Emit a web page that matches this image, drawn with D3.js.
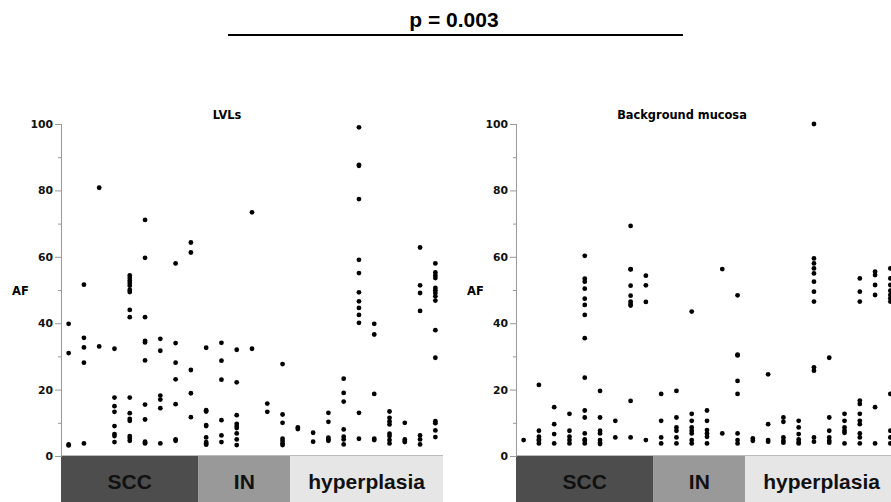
<!DOCTYPE html>
<html>
<head>
<meta charset="utf-8">
<script src="https://cdn.jsdelivr.net/npm/d3@7"></script>
<style>
body { margin: 0; background: #fff; }
</style>
</head>
<body>
<script>
var WIDTH = 891;
var HEIGHT = 502;
var PANEL_SHIFT = 455;
var DOT_R = 2.4;

// groups of patients along the x axis
var groups = ['SCC', 'IN', 'hyperplasia'];
var groupCounts = [9, 6, 10];
var groupColors = ['#4d4d4d', '#999999', '#e6e6e6'];

var yTicks = [0, 20, 40, 60, 80, 100];
var yMinorTicks = [10, 30, 50, 70, 90];

var panelTitles = ['LVLs', 'Background mucosa'];

// allele frequencies per patient, LVLs
var lvls = [
    [39.8, 31.0, 3.5, 3.2],
    [51.6, 35.6, 32.7, 28.1, 3.8],
    [80.8, 33.0],
    [32.3, 17.6, 15.0, 13.3, 9.0, 6.6, 6.0, 4.2],
    [54.4, 53.6, 52.8, 52.1, 51.3, 50.0, 49.4, 44.0, 41.8, 17.6, 12.9, 11.2, 10.6, 6.0, 5.4, 4.6],
    [71.1, 59.7, 41.8, 34.7, 34.2, 28.8, 15.5, 11.0, 4.3, 4.0, 3.8],
    [35.3, 31.7, 18.2, 17.0, 14.4, 3.8],
    [58.0, 34.0, 28.1, 23.1, 15.6, 5.0, 4.6],
    [64.3, 61.3, 25.9, 18.9, 11.7],
    [32.6, 13.8, 13.4, 9.3, 9.0, 5.6, 4.2, 3.8, 3.4],
    [34.1, 28.7, 23.0, 10.8, 6.2, 4.2],
    [32.0, 22.2, 12.3, 9.7, 9.0, 8.4, 6.8, 5.0, 3.3],
    [73.4, 32.3],
    [15.8, 13.3],
    [27.7, 12.5, 10.0, 5.2, 4.5, 3.8, 3.3],
    [8.6, 8.1],
    [7.0, 4.3],
    [13.0, 10.3, 5.5, 5.0, 4.6],
    [23.3, 19.0, 16.4, 8.0, 5.8, 5.0, 3.5],
    [99.0, 87.7, 87.4, 77.4, 59.1, 55.1, 49.3, 46.6, 44.6, 42.5, 40.1, 13.0, 5.2],
    [39.8, 36.6, 18.7, 5.2, 4.8],
    [13.4, 11.5, 10.4, 9.5, 6.7, 6.0, 4.8, 3.8],
    [10.0, 5.0, 4.5, 4.2],
    [62.8, 51.4, 49.1, 43.7, 6.2, 5.0, 3.5],
    [58.0, 55.3, 54.4, 53.6, 50.6, 49.9, 49.1, 48.1, 46.8, 37.9, 29.6, 10.5, 9.9, 7.7, 5.7]
];

// allele frequencies per patient, background mucosa
var mucosa = [
    [4.8],
    [21.4, 7.6, 5.8, 5.0, 4.6, 3.8],
    [14.7, 9.6, 6.6, 3.8],
    [12.7, 7.6, 5.8, 4.8, 3.8],
    [60.3, 53.4, 52.5, 50.4, 47.4, 45.5, 42.5, 35.5, 23.6, 13.7, 11.6, 6.8, 5.0, 4.6, 3.8],
    [19.6, 11.6, 7.6, 6.8, 4.8, 4.0, 3.6],
    [10.6, 5.6],
    [69.3, 56.3, 56.2, 51.3, 48.3, 46.5, 45.8, 45.3, 16.6, 5.6],
    [54.3, 51.4, 46.4, 4.8],
    [18.7, 10.6, 5.6, 3.8],
    [19.6, 11.6, 8.6, 7.6, 5.6, 3.8],
    [43.5, 12.7, 10.6, 8.6, 7.6, 6.8, 4.8, 3.8],
    [13.7, 10.6, 7.8, 6.8, 5.8, 3.8],
    [56.3, 6.8],
    [48.4, 30.5, 30.3, 22.6, 18.7, 6.8, 4.8, 3.8],
    [5.3, 4.6],
    [24.6, 9.6, 4.8, 4.3],
    [11.6, 10.3, 5.6, 4.6, 4.0],
    [10.6, 8.6, 6.6, 5.0, 4.2, 3.8],
    [100, 59.5, 58.0, 56.5, 55.0, 52.5, 49.5, 46.5, 26.7, 25.7, 5.6, 4.3],
    [29.6, 11.6, 7.6, 5.6, 4.6, 4.0],
    [12.7, 10.6, 8.6, 7.6, 7.0, 3.8],
    [53.5, 49.5, 46.5, 16.7, 15.7, 12.7, 10.6, 9.6, 6.8, 5.6, 3.8],
    [55.5, 54.5, 51.5, 48.5, 14.7, 3.8],
    [56.5, 53.5, 51.5, 49.8, 48.5, 47.5, 46.5, 18.7, 7.6, 5.6, 3.8]
];

var svg = d3.select('body').append('svg')
    .attr('width', WIDTH)
    .attr('height', HEIGHT)
    .style('font-family', 'DejaVu Sans');

// p value header
svg.append('text')
    .attr('x', 454)
    .attr('y', 27)
    .attr('text-anchor', 'middle')
    .style('font-family', 'Liberation Sans')
    .style('font-weight', 'bold')
    .style('font-size', '21px')
    .text('p = 0.003');
svg.append('line')
    .attr('x1', 228).attr('x2', 683)
    .attr('y1', 35).attr('y2', 35)
    .attr('stroke', '#000')
    .attr('stroke-width', 2);

var y = d3.scaleLinear().domain([0, 100]).range([456, 124]);
var x = d3.scaleBand().domain(d3.range(25)).range([61, 443]);

drawPanel(0, panelTitles[0], lvls);
drawPanel(1, panelTitles[1], mucosa);

function drawPanel(idx, title, data) {
    var g = svg.append('g')
        .attr('transform', 'translate(' + (idx * PANEL_SHIFT) + ',0)');

    g.append('text')
        .attr('x', 227)
        .attr('y', 119)
        .attr('text-anchor', 'middle')
        .style('font-weight', 'bold')
        .style('font-size', '11.4px')
        .text(title);

    g.append('text')
        .attr('x', 12)
        .attr('y', 295)
        .style('font-weight', 'bold')
        .style('font-size', '11.5px')
        .text('AF');

    // category bars under the plot
    var start = 0;
    var bars = groups.map(function (name, i) {
        var b = { name: name, color: groupColors[i], first: start, last: start + groupCounts[i] - 1 };
        start += groupCounts[i];
        return b;
    });
    var barG = g.selectAll('.bar').data(bars).enter().append('g').attr('class', 'bar');
    barG.append('rect')
        .attr('x', function (d) { return x(d.first); })
        .attr('width', function (d) { return x(d.last) + x.bandwidth() - x(d.first); })
        .attr('y', y(0))
        .attr('height', HEIGHT - y(0))
        .attr('fill', function (d) { return d.color; });
    barG.append('text')
        .attr('x', function (d) { return (x(d.first) + x(d.last) + x.bandwidth()) / 2; })
        .attr('y', 489)
        .attr('text-anchor', 'middle')
        .style('font-family', 'Liberation Sans')
        .style('font-weight', 'bold')
        .style('font-size', '21px')
        .attr('fill', '#111')
        .text(function (d) { return d.name; });

    g.append('line')
        .attr('x1', x.range()[0]).attr('x2', x.range()[1])
        .attr('y1', y(0) - 0.5).attr('y2', y(0) - 0.5)
        .attr('stroke', '#bbb');

    var minor = g.append('g')
        .attr('transform', 'translate(' + x.range()[0] + ',0)')
        .call(d3.axisLeft(y).tickValues(yMinorTicks).tickSize(3).tickFormat(''));
    var major = g.append('g')
        .attr('transform', 'translate(' + x.range()[0] + ',0)')
        .call(d3.axisLeft(y).tickValues(yTicks).tickSize(6).tickPadding(2));
    [minor, major].forEach(function (a) {
        a.selectAll('.domain, line').attr('stroke', '#999');
    });
    major.selectAll('text')
        .attr('fill', '#111')
        .style('font-family', 'DejaVu Sans')
        .style('font-weight', 'bold')
        .style('font-size', '10.8px');

    var pts = [];
    data.forEach(function (vals, i) {
        vals.forEach(function (v) { pts.push({ col: i, af: v }); });
    });
    g.selectAll('.dot').data(pts).enter().append('circle')
        .attr('class', 'dot')
        .attr('cx', function (d) { return x(d.col) + x.bandwidth() / 2; })
        .attr('cy', function (d) { return y(d.af); })
        .attr('r', DOT_R)
        .attr('fill', '#000');
}
</script>
</body>
</html>
